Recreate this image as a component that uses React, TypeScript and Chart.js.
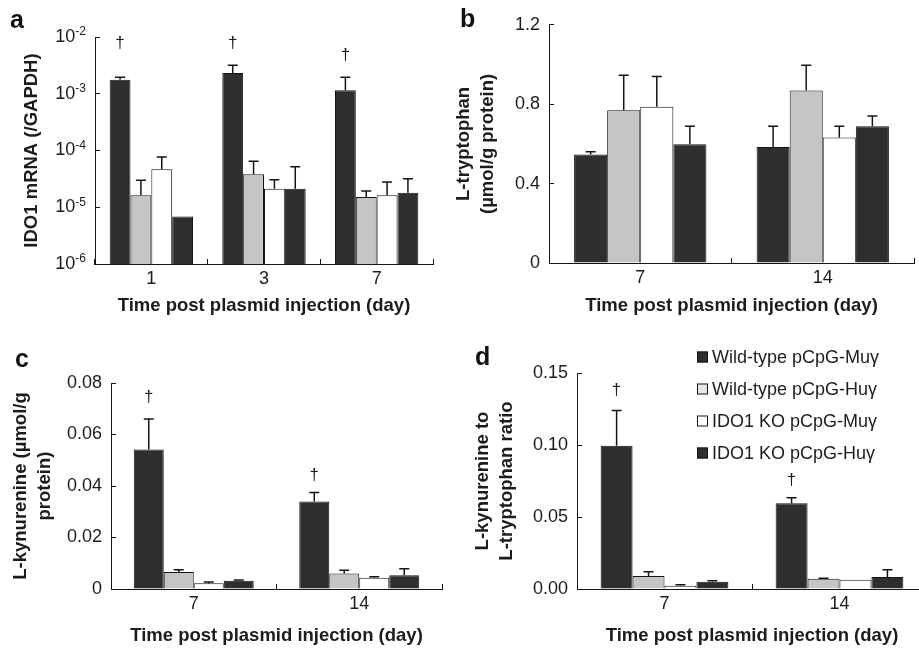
import React, { useEffect, useRef } from "react";
import { Chart, registerables } from "chart.js";

Chart.register(...registerables);

// ---------------- data ----------------
const seriesLabels = [
  "Wild-type pCpG-Muγ",
  "Wild-type pCpG-Huγ",
  "IDO1 KO pCpG-Muγ",
  "IDO1 KO pCpG-Huγ",
];
const xTitle = "Time post plasmid injection (day)";

// Panel a: IDO1 mRNA (log scale)
const daysA = ["1", "3", "7"];
const mrnaWtMu = [1.77e-3, 2.32e-3, 1.15e-3];
const mrnaWtMuErr = [1.95e-3, 3.17e-3, 1.95e-3];
const mrnaWtHu = [1.62e-5, 3.8e-5, 1.51e-5];
const mrnaWtHuErr = [2.98e-5, 6.45e-5, 1.94e-5];
const mrnaKoMu = [4.65e-5, 2.12e-5, 1.62e-5];
const mrnaKoMuErr = [7.7e-5, 3.06e-5, 2.78e-5];
const mrnaKoHu = [6.9e-6, 2.12e-5, 1.8e-5];
const mrnaKoHuErr = [null, 5.19e-5, 3.19e-5];
const daggerA = [7.8e-3, 7.8e-3, 4.8e-3];
const logTicksA = [1e-6, 1e-5, 1e-4, 1e-3, 1e-2];

// Panel b: L-tryptophan
const daysB = ["7", "14"];
const trpWtMu = [0.547, 0.585];
const trpWtMuErr = [0.56, 0.689];
const trpWtHu = [0.77, 0.869];
const trpWtHuErr = [0.946, 0.996];
const trpKoMu = [0.787, 0.632];
const trpKoMuErr = [0.939, 0.689];
const trpKoHu = [0.598, 0.689];
const trpKoHuErr = [0.689, 0.74];
const daggerB = [null, null];
const tickLabelsB = ["0", "0.4", "0.8", "1.2"];

// Panel c: L-kynurenine
const daysC = ["7", "14"];
const kynWtMu = [0.0542, 0.034];
const kynWtMuErr = [0.066, 0.0375];
const kynWtHu = [0.0066, 0.006];
const kynWtHuErr = [0.0075, 0.0073];
const kynKoMu = [0.0022, 0.0044];
const kynKoMuErr = [0.0027, 0.0048];
const kynKoHu = [0.0032, 0.0053];
const kynKoHuErr = [0.0035, 0.0079];
const daggerC = [0.0746, 0.0442];
const tickLabelsC = ["0", "0.02", "0.04", "0.06", "0.08"];

// Panel d: kynurenine / tryptophan ratio
const daysD = ["7", "14"];
const ratioWtMu = [0.0994, 0.0596];
const ratioWtMuErr = [0.124, 0.0633];
const ratioWtHu = [0.009, 0.0072];
const ratioWtHuErr = [0.012, 0.0075];
const ratioKoMu = [0.0023, 0.0065];
const ratioKoMuErr = [0.003, null];
const ratioKoHu = [0.005, 0.0083];
const ratioKoHuErr = [0.0058, 0.0134];
const daggerD = [0.138, 0.0758];
const tickLabelsD = ["0.00", "0.05", "0.10", "0.15"];

// ---------------- styles ----------------
const FONT = "'Liberation Sans', Arial, Helvetica, sans-serif";
const INK = "#1c1c1c";
const LINE = "#151515";
const FILLS = ["#2c2f2e", "#c3c6c3", "#ffffff", "#2c2f2e"];
const LEGEND_FILLS = ["#2c2f2e", "#e6e8e6", "#ffffff", "#2c2f2e"];

type Area = { left: number; right: number; top: number; bottom: number };

interface PanelProps {
  left: number;
  top: number;
  width: number;
  height: number;
  area: Area;
  letter: string;
  letterPos: [number, number];
  categories: string[];
  values: number[][];
  errs: (number | null)[][];
  daggers: (number | null)[];
  log?: boolean;
  logTicks?: number[];
  tickLabels?: string[];
  yMin: number;
  yMax: number;
  yStep?: number;
  yTitle: string | string[];
  yTitlePad: number;
  xTitlePad: number;
  catPct: number;
  legend?: { boxX: number; textX: number; rows: number[] };
}

function Panel(p: PanelProps) {
  const ref = useRef<HTMLCanvasElement | null>(null);

  useEffect(() => {
    if (!ref.current) return;
    const area = p.area;

    const overlay = {
      id: "overlay",
      afterDatasetsDraw(chart: any) {
        const ctx = chart.ctx;
        const ys = chart.scales.y;
        ctx.save();
        // error bars
        chart.data.datasets.forEach((ds: any, i: number) => {
          const meta = chart.getDatasetMeta(i);
          meta.data.forEach((el: any, j: number) => {
            const e = ds.errTop[j];
            if (e == null || e <= ds.data[j]) return;
            const yTop = ys.getPixelForValue(e);
            const yBar = el.y;
            ctx.strokeStyle = LINE;
            ctx.lineWidth = 1.5;
            ctx.beginPath();
            ctx.moveTo(el.x, yBar);
            ctx.lineTo(el.x, yTop);
            ctx.moveTo(el.x - 5, yTop);
            ctx.lineTo(el.x + 5, yTop);
            ctx.stroke();
          });
        });
        // daggers above the wild-type pCpG-Muγ bars
        const meta0 = chart.getDatasetMeta(0);
        ctx.fillStyle = INK;
        ctx.font = `17px ${FONT}`;
        ctx.textAlign = "center";
        ctx.textBaseline = "middle";
        p.daggers.forEach((d, j) => {
          if (d == null) return;
          ctx.fillText("†", meta0.data[j].x, ys.getPixelForValue(d));
        });
        ctx.restore();
      },
      afterDraw(chart: any) {
        const ctx = chart.ctx;
        const ys = chart.scales.y;
        ctx.save();
        // log tick labels with superscript exponents
        if (p.log) {
          ctx.fillStyle = INK;
          ctx.textAlign = "right";
          ctx.textBaseline = "middle";
          ys.ticks.forEach((t: any) => {
            const y = ys.getPixelForValue(t.value);
            const exp = String(Math.round(Math.log10(t.value)));
            const xr = ys.right - 9;
            ctx.font = `12px ${FONT}`;
            const w = ctx.measureText(exp).width;
            ctx.fillText(exp, xr, y - 5);
            ctx.font = `18px ${FONT}`;
            ctx.fillText("10", xr - w, y);
          });
        }
        // panel letter
        ctx.fillStyle = "#111";
        ctx.font = `bold 25px ${FONT}`;
        ctx.textAlign = "left";
        ctx.textBaseline = "alphabetic";
        ctx.fillText(p.letter, p.letterPos[0], p.letterPos[1]);
        // legend
        if (p.legend) {
          const lg = p.legend;
          chart.data.datasets.forEach((ds: any, i: number) => {
            const cy = lg.rows[i];
            ctx.fillStyle = LEGEND_FILLS[i];
            ctx.fillRect(lg.boxX, cy - 5.5, 11, 11);
            ctx.strokeStyle = LINE;
            ctx.lineWidth = 1;
            ctx.strokeRect(lg.boxX + 0.5, cy - 5, 10, 10);
            ctx.fillStyle = INK;
            ctx.font = `18px ${FONT}`;
            ctx.textBaseline = "middle";
            ctx.fillText(ds.label, lg.textX, cy + 1);
          });
        }
        ctx.restore();
      },
    };

    const chart = new Chart(ref.current, {
      type: "bar",
      data: {
        labels: p.categories,
        datasets: p.values.map((vals, i) => ({
          label: seriesLabels[i],
          data: vals,
          errTop: p.errs[i],
          backgroundColor: FILLS[i],
          borderColor: LINE,
          borderWidth: 1,
          barPercentage: 1,
          categoryPercentage: p.catPct,
        })) as any,
      },
      options: {
        animation: false,
        responsive: false,
        devicePixelRatio: 1,
        events: [],
        layout: {
          padding: {
            left: 0,
            top: area.top,
            right: p.width - area.right,
            bottom: 0,
          },
        },
        plugins: {
          legend: { display: false },
          tooltip: { enabled: false },
        },
        scales: {
          x: {
            afterFit: (s: any) => {
              s.height = p.height - area.bottom;
            },
            ticks: {
              font: { family: FONT, size: 18 },
              color: INK,
              padding: 9,
            },
            grid: {
              offset: true,
              drawOnChartArea: false,
              tickLength: -5,
              color: LINE,
              lineWidth: 1,
            },
            border: { display: true, color: LINE, width: 1 },
            title: {
              display: true,
              text: xTitle,
              color: INK,
              font: { family: FONT, size: 18.5, weight: "bold", lineHeight: 1.2 },
              padding: { top: 0, bottom: p.xTitlePad },
            },
          },
          y: {
            type: p.log ? "logarithmic" : "linear",
            min: p.yMin,
            max: p.yMax,
            afterFit: (s: any) => {
              s.width = area.left;
            },
            afterBuildTicks: p.log
              ? (s: any) => {
                  s.ticks = (p.logTicks || []).map((v) => ({ value: v }));
                }
              : undefined,
            ticks: {
              stepSize: p.yStep,
              font: { family: FONT, size: 18 },
              color: INK,
              padding: 14,
              callback: (_v: any, index: number) => {
                if (p.log) return "";
                return (p.tickLabels || [])[index] ?? "";
              },
            },
            grid: {
              drawOnChartArea: false,
              tickLength: -5,
              color: LINE,
              lineWidth: 1,
            },
            border: { display: true, color: LINE, width: 1 },
            title: {
              display: true,
              text: p.yTitle,
              color: INK,
              font: { family: FONT, size: 18.5, weight: "bold", lineHeight: 1.3 },
              padding: { top: p.yTitlePad, bottom: 0 },
            },
          },
        },
      } as any,
      plugins: [overlay],
    });

    return () => chart.destroy();
  }, []);

  return (
    <canvas
      ref={ref}
      width={p.width}
      height={p.height}
      style={{
        position: "absolute",
        left: p.left,
        top: p.top,
        width: p.width,
        height: p.height,
      }}
    />
  );
}

export default function App() {
  return (
    <div
      style={{
        position: "absolute",
        left: 0,
        top: 0,
        width: 919,
        height: 648,
        overflow: "hidden",
        background: "#ffffff",
      }}
    >
      <Panel
        left={0}
        top={0}
        width={440}
        height={320}
        area={{ left: 95, right: 433, top: 37, bottom: 264 }}
        letter="a"
        letterPos={[10, 28]}
        categories={daysA}
        values={[mrnaWtMu, mrnaWtHu, mrnaKoMu, mrnaKoHu]}
        errs={[mrnaWtMuErr, mrnaWtHuErr, mrnaKoMuErr, mrnaKoHuErr]}
        daggers={daggerA}
        log
        logTicks={logTicksA}
        yMin={1e-6}
        yMax={1e-2}
        yTitle="IDO1 mRNA (/GAPDH)"
        yTitlePad={20}
        xTitlePad={3}
        catPct={0.74}
      />
      <Panel
        left={440}
        top={0}
        width={479}
        height={320}
        area={{ left: 109, right: 474, top: 24, bottom: 263 }}
        letter="b"
        letterPos={[20, 27]}
        categories={daysB}
        values={[trpWtMu, trpWtHu, trpKoMu, trpKoHu]}
        errs={[trpWtMuErr, trpWtHuErr, trpKoMuErr, trpKoHuErr]}
        daggers={daggerB}
        tickLabels={tickLabelsB}
        yMin={0}
        yMax={1.2}
        yStep={0.4}
        yTitle={["L-tryptophan", "(µmol/g protein)"]}
        yTitlePad={12}
        xTitlePad={3}
        catPct={0.725}
      />
      <Panel
        left={0}
        top={320}
        width={460}
        height={328}
        area={{ left: 111, right: 442, top: 63, bottom: 269 }}
        letter="c"
        letterPos={[15, 47]}
        categories={daysC}
        values={[kynWtMu, kynWtHu, kynKoMu, kynKoHu]}
        errs={[kynWtMuErr, kynWtHuErr, kynKoMuErr, kynKoHuErr]}
        daggers={daggerC}
        tickLabels={tickLabelsC}
        yMin={0}
        yMax={0.08}
        yStep={0.02}
        yTitle={["L-kynurenine (µmol/g", "protein)"]}
        yTitlePad={9}
        xTitlePad={1}
        catPct={0.725}
      />
      <Panel
        left={440}
        top={320}
        width={500}
        height={328}
        area={{ left: 137, right: 487, top: 53, bottom: 269 }}
        letter="d"
        letterPos={[35, 45]}
        categories={daysD}
        values={[ratioWtMu, ratioWtHu, ratioKoMu, ratioKoHu]}
        errs={[ratioWtMuErr, ratioWtHuErr, ratioKoMuErr, ratioKoHuErr]}
        daggers={daggerD}
        tickLabels={tickLabelsD}
        yMin={0}
        yMax={0.15}
        yStep={0.05}
        yTitle={["L-kynurenine to", "L-tryptophan ratio"]}
        yTitlePad={31}
        xTitlePad={1}
        catPct={0.73}
        legend={{ boxX: 257, textX: 272, rows: [37, 69, 101, 133] }}
      />
    </div>
  );
}
